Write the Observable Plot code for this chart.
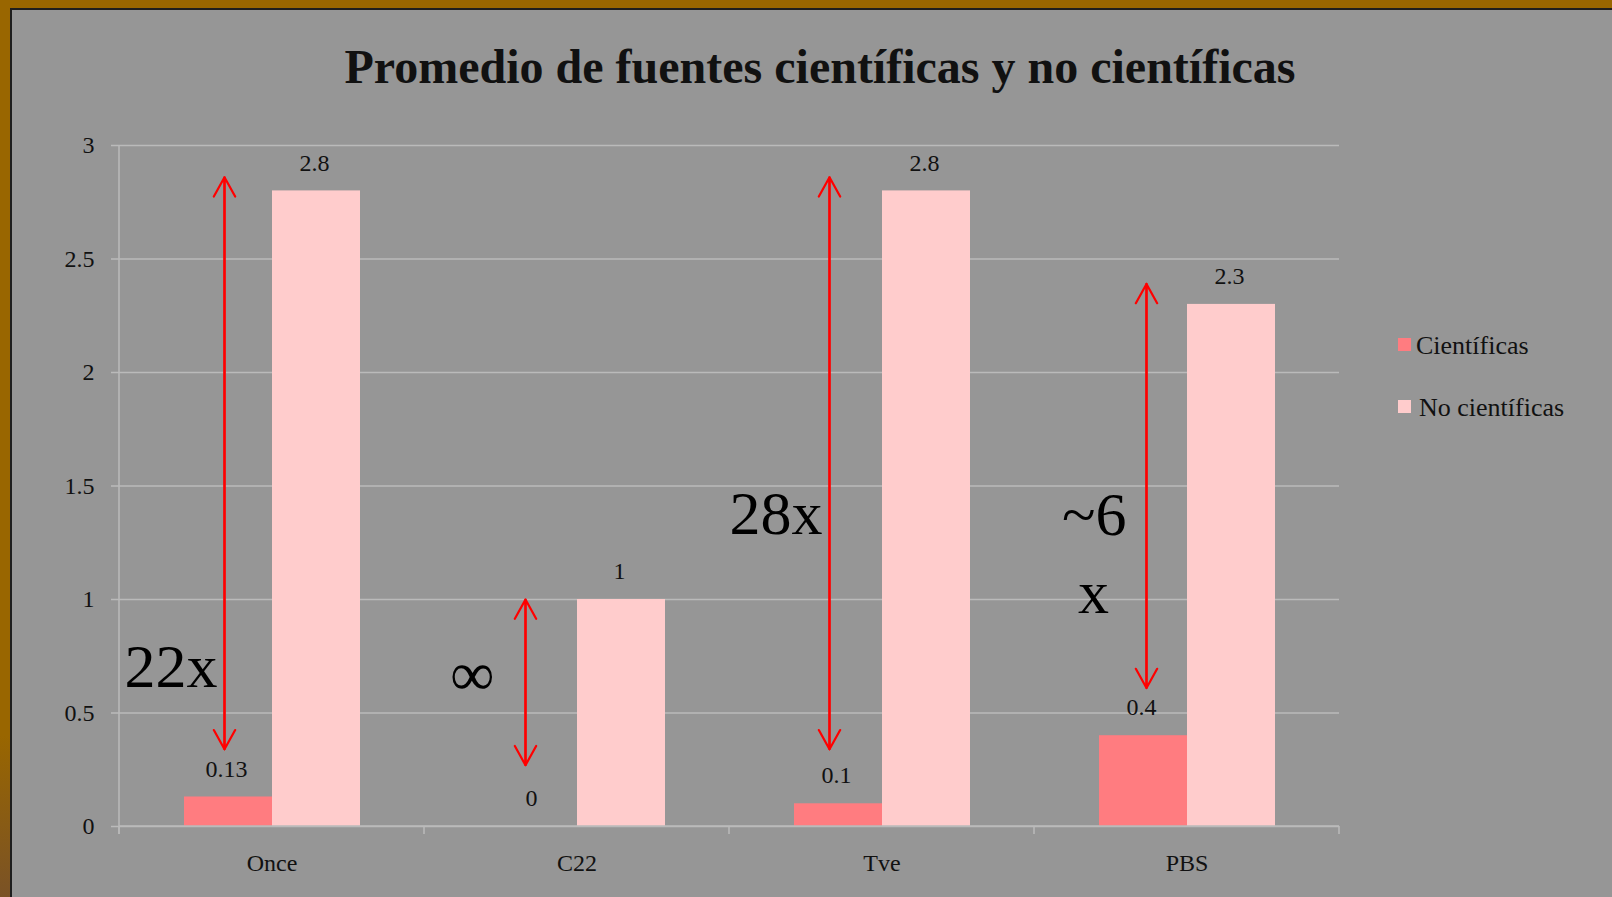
<!DOCTYPE html>
<html>
<head>
<meta charset="utf-8">
<script src="https://cdn.jsdelivr.net/npm/d3@7"></script>
<script src="https://cdn.jsdelivr.net/npm/@observablehq/plot@0.6"></script>
<style>
html, body { margin: 0; padding: 0; background: #969696; }
#page { position: relative; width: 1612px; height: 897px; overflow: hidden; background: #969696; font-family: "Liberation Serif", "Times New Roman", serif; color: #111; }
#title { box-sizing: border-box; height: 100px; padding-top: 43px; padding-left: 28px; width: 1612px; text-align: center; font-weight: bold; font-size: 48px; line-height: 48px; white-space: nowrap; }
#chart svg { display: block; }
.bt { position: absolute; left: 0; top: 0; width: 1612px; height: 8px; background: #996600; z-index: 5; }
.bl { position: absolute; left: 0; top: 0; width: 10px; height: 897px; background: linear-gradient(#996600 0%, #996600 82%, #7a5226 100%); z-index: 5; }
.dt { position: absolute; left: 10px; top: 8px; width: 1602px; height: 2px; background: #1e1e1e; z-index: 6; }
.dl { position: absolute; left: 10px; top: 8px; width: 2px; height: 889px; background: #1e1e1e; z-index: 6; }
.leg-sw { position: absolute; width: 13px; height: 13px; }
.leg-tx { position: absolute; font-size: 26px; line-height: 26px; white-space: nowrap; }
</style>
</head>
<body>
<div id="page">
  <div class="bt"></div><div class="bl"></div><div class="dt"></div><div class="dl"></div>
  <div id="title"></div>
  <div id="chart"></div>
  <div id="legend"></div>
</div>
<script>
// ---- data ----
const titleText = "Promedio de fuentes científicas y no científicas";
const categories = ["Once", "C22", "Tve", "PBS"];
const seriesNames = ["Científicas", "No científicas"];
const cientificas = [0.13, 0, 0.1, 0.4];
const noCientificas = [2.8, 1, 2.8, 2.3];
const yTicks = [0, 0.5, 1, 1.5, 2, 2.5, 3];
// red double arrows (value range spanned)
const arrowLow = [0.34, 0.27, 0.34, 0.61];
const arrowHigh = [2.86, 1.0, 2.86, 2.39];
// ratio annotations
const ratioText = ["22x", "∞", "28x", "~6"];
const ratioY = [0.70, 0.665, 1.375, 1.37];
const extraText = ["", "", "", "x"];
const extraY = [null, null, null, 1.03];

// ---- style ----
const colors = ["#ff7c80", "#ffcccc"];
const gridColor = "#bababa";
const arrowShift = [-4, -8, -9, 3];
const ratioShift = [-11, -39, -16, -17];

document.getElementById("title").textContent = titleText;

const rows = categories.flatMap((c, i) => [
  {cat: c, series: seriesNames[0], value: cientificas[i]},
  {cat: c, series: seriesNames[1], value: noCientificas[i]}
]);

const marks = [
  Plot.ruleY(yTicks, {stroke: gridColor, strokeWidth: 1.5}),
  Plot.barY(rows, {fx: "cat", x: "series", y: "value", fill: "series"}),
  Plot.text(rows, {fx: "cat", x: "series", y: "value", text: d => String(d.value), dx: -2, dy: -28, fontSize: 24, fill: "#111"})
];

categories.forEach((c, i) => {
  const a = [{cat: c, series: seriesNames[0], lo: arrowLow[i], hi: arrowHigh[i]}];
  const common = {fx: "cat", x1: "series", x2: "series", stroke: "#ff0000", strokeWidth: 2.2, headLength: 15, headAngle: 58, dx: arrowShift[i]};
  marks.push(Plot.arrow(a, {...common, y1: "lo", y2: "hi"}));
  marks.push(Plot.arrow(a, {...common, y1: "hi", y2: "lo"}));
  marks.push(Plot.text([{cat: c, series: seriesNames[0], y: ratioY[i], t: ratioText[i]}],
    {fx: "cat", x: "series", y: "y", text: "t", textAnchor: "end", dx: ratioShift[i], fontSize: 62, fill: "#000"}));
  if (extraText[i]) {
    marks.push(Plot.text([{cat: c, series: seriesNames[0], y: extraY[i], t: extraText[i]}],
      {fx: "cat", x: "series", y: "y", text: "t", textAnchor: "middle", dx: -50, fontSize: 62, fill: "#000"}));
  }
});

marks.push(Plot.axisY({ticks: yTicks, tickFormat: d => String(d), tickSize: 8, tickPadding: 17, stroke: gridColor, strokeWidth: 1.5, fill: "#111", fontSize: 24, label: null}));
marks.push(Plot.axisFx({anchor: "bottom", tickSize: 0, tickPadding: 27, fontSize: 24, fill: "#111", label: null}));

const plot = Plot.plot({
  width: 1612,
  height: 797,
  marginLeft: 117,
  marginRight: 272,
  marginTop: 45,
  marginBottom: 71,
  fx: {domain: categories, padding: 0, label: null},
  x: {domain: seriesNames, paddingInner: 0, paddingOuter: 0.72, axis: null},
  y: {domain: [0, 3]},
  color: {domain: seriesNames, range: colors},
  style: {background: "transparent", fontFamily: "Liberation Serif, Times New Roman, serif", fontSize: "24px", color: "#111", overflow: "visible"},
  marks
});
document.getElementById("chart").appendChild(plot);

// axis line and category boundary ticks from the library's scales
const fx = plot.scale("fx");
const ys = plot.scale("y");
const bounds = fx.domain.map(d => fx.apply(d)).concat([fx.apply(fx.domain[fx.domain.length - 1]) + fx.bandwidth]);
const y0 = ys.apply(0), y3 = ys.apply(3);
const g = d3.select(plot).append("g").attr("stroke", gridColor).attr("stroke-width", 1.5);
g.append("line").attr("x1", bounds[0]).attr("x2", bounds[0]).attr("y1", y3).attr("y2", y0 + 8);
g.append("line").attr("x1", bounds[0]).attr("x2", bounds[bounds.length - 1]).attr("y1", y0).attr("y2", y0);
bounds.forEach(b => g.append("line").attr("x1", b).attr("x2", b).attr("y1", y0).attr("y2", y0 + 8));

// legend
const legend = document.getElementById("legend");
const legTop = [334, 396];
const legTextLeft = [1416, 1419];
seriesNames.forEach((s, i) => {
  const sw = document.createElement("div");
  sw.className = "leg-sw";
  sw.style.left = "1398px";
  sw.style.top = (legTop[i] + 4) + "px";
  sw.style.background = colors[i];
  legend.appendChild(sw);
  const tx = document.createElement("div");
  tx.className = "leg-tx";
  tx.style.left = legTextLeft[i] + "px";
  tx.style.top = (legTop[i] - 1) + "px";
  tx.textContent = s;
  legend.appendChild(tx);
});
</script>
</body>
</html>
